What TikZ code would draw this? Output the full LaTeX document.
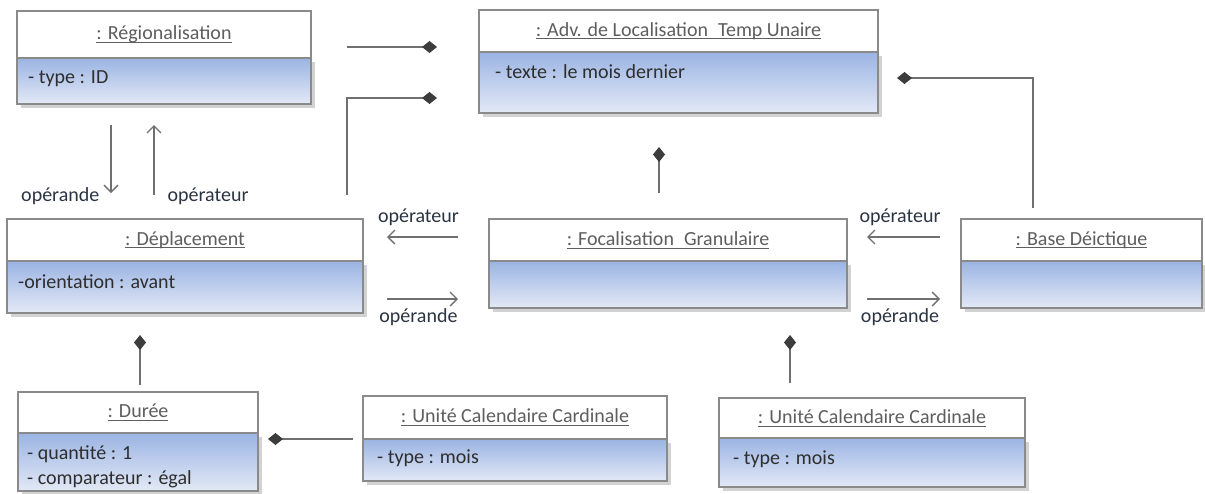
\documentclass[tikz,border=0pt]{standalone}
\usepackage{fontspec}
\setmainfont{Carlito}
\usepackage{tikz}
\usetikzlibrary{arrows.meta, positioning, shadows}
\definecolor{umlborder}{HTML}{8A8A8A}
\definecolor{umltop}{HTML}{9BB4E3}
\definecolor{umlbot}{HTML}{E3E9F6}
\definecolor{umltitle}{HTML}{5E5E5E}
\definecolor{umltext}{HTML}{2E2E2E}
\definecolor{umlline}{HTML}{707070}
\definecolor{umldiam}{HTML}{3C3C3C}
\definecolor{umllabel}{HTML}{2A3442}
\newcommand{\objname}[1]{\setbox0\hbox{#1}\rlap{\rule[-3pt]{\wd0}{0.9pt}}\box0}

\begin{document}
\begin{tikzpicture}[x=1pt, y=-1pt,
   font=\fontsize{20}{25}\selectfont,
   head/.style={draw=umlborder, line width=1.2pt, fill=white, outer sep=0pt, inner sep=0pt,
                anchor=north west, text=umltitle},
   body/.style={draw=umlborder, line width=1.2pt, top color=umltop, bottom color=umlbot,
                outer sep=0pt, inner sep=0pt,
                drop shadow={shadow xshift=4pt, shadow yshift=-4pt, fill=black!35, opacity=.5}},
   attr/.style={anchor=north west, align=left, inner sep=0pt, text=umltext},
   lbl/.style={text=umllabel, inner sep=1pt},
   comp/.style={draw=umlline, line width=1.3pt, -{Diamond[length=15pt, width=12pt, color=umldiam]}},
   assoc/.style={draw=umlline, line width=1.3pt, -{Straight Barb[length=7pt, width=14pt]}}]
  \useasboundingbox (0,0) rectangle (1205,493);

  \node[head, minimum width=294pt, minimum height=47pt] (regh) at (17,11) {\objname{: Régionalisation}};
  \node[body, minimum width=294pt, minimum height=46pt, below=0pt of regh] (regb) {};
  \node[attr] (rega) at ([xshift=11pt, yshift=-12pt]regb.north west) {- type : ID};

  \node[head, minimum width=399pt, minimum height=42pt] (advh) at (479,10)
     {\objname{: Adv. de Localisation\enspace Temp Unaire}};
  \node[body, minimum width=399pt, minimum height=61pt, below=0pt of advh] (advb) {};
  \node[attr] (adva) at ([xshift=16pt, yshift=-12pt]advb.north west) {- texte : le mois dernier};

  \node[head, minimum width=356pt, minimum height=42pt] (deph) at (7,219) {\objname{: Déplacement}};
  \node[body, minimum width=356pt, minimum height=52pt, below=0pt of deph] (depb) {};
  \node[attr] (depa) at ([xshift=11pt, yshift=-13pt]depb.north west) {-orientation : avant};

  \node[head, minimum width=358pt, minimum height=42pt] (foch) at (489,219)
     {\objname{: Focalisation\enspace Granulaire}};
  \node[body, minimum width=358pt, minimum height=47pt, below=0pt of foch] (focb) {};

  \node[head, minimum width=241pt, minimum height=42pt] (baseh) at (961,219) {\objname{: Base Déictique}};
  \node[body, minimum width=241pt, minimum height=47pt, below=0pt of baseh] (baseb) {};

  \node[head, minimum width=240pt, minimum height=41pt] (durh) at (18,392) {\objname{: Durée}};
  \node[body, minimum width=240pt, minimum height=58pt, below=0pt of durh] (durb) {};
  \node[attr] (dura) at ([xshift=9pt, yshift=-12pt]durb.north west) {- quantité : 1\\- comparateur : égal};

  \node[head, minimum width=304pt, minimum height=43pt] (uc1h) at (363,396)
     {\objname{: Unité Calendaire Cardinale}};
  \node[body, minimum width=304pt, minimum height=42pt, below=0pt of uc1h] (uc1b) {};
  \node[attr] (uc1a) at ([xshift=14pt, yshift=-11pt]uc1b.north west) {- type : mois};

  \node[head, minimum width=306pt, minimum height=40pt] (uc2h) at (719,398)
     {\objname{: Unité Calendaire Cardinale}};
  \node[body, minimum width=306pt, minimum height=49pt, below=0pt of uc2h] (uc2b) {};
  \node[attr] (uc2a) at ([xshift=14pt, yshift=-13pt]uc2b.north west) {- type : mois};

  \draw[comp, shorten <=36pt, shorten >=42pt] ([yshift=-12.5pt]regh.east) -- ([yshift=-16pt]advh.west);
  \draw[comp, shorten >=42pt] ([xshift=-16pt, yshift=24pt]deph.north east) |- ([yshift=-15.5pt]advb.west);
  \draw[comp, shorten <=26pt, shorten >=34pt] ([xshift=-9pt]foch.north) -- ([xshift=-9pt]foch.north |- advb.south);
  \draw[comp, shorten >=19pt] ([xshift=-48.5pt, yshift=11pt]baseh.north) |- ([yshift=4.5pt]advb.east);
  \draw[comp, shorten <=7pt, shorten >=22pt] ([xshift=2pt]durh.north) -- ([xshift=2pt]durh.north |- depb.south);
  \draw[comp, shorten <=10pt, shorten >=10pt] (uc1h.south west) -- (uc1h.south west -| durb.east);
  \draw[comp, shorten <=15pt, shorten >=27pt] ([xshift=-82pt]uc2h.north) -- ([xshift=-82pt]uc2h.north |- focb.south);

  \draw[assoc, shorten <=21pt, shorten >=26pt] ([xshift=-53pt]regb.south) -- ([xshift=-53pt]regb.south |- deph.north)
     node[lbl, pos=.8, left=10pt] {opérande};
  \draw[assoc, shorten <=24pt, shorten >=21pt] ([xshift=-31pt]deph.north) -- ([xshift=-31pt]deph.north |- regb.south)
     node[lbl, pos=.2, right=12pt] {opérateur};
  \draw[assoc, shorten <=31pt, shorten >=24pt] ([yshift=3pt]foch.west) -- ([yshift=3pt]deph.east)
     node[lbl, pos=.56, yshift=20pt] {opérateur};
  \draw[assoc, shorten <=24pt, shorten >=31pt] ([yshift=-12pt]depb.east) -- ([yshift=-12pt]depb.east -| focb.west)
     node[lbl, pos=.44, yshift=-18pt] {opérande};
  \draw[assoc, shorten <=21pt, shorten >=20pt] ([yshift=3pt]baseh.west) -- ([yshift=3pt]baseh.west -| foch.east)
     node[lbl, pos=.535, yshift=20pt] {opérateur};
  \draw[assoc, shorten <=20pt, shorten >=21pt] ([yshift=-14.5pt]focb.east) -- ([yshift=-14.5pt]focb.east -| baseb.west)
     node[lbl, pos=.465, yshift=-18pt] {opérande};
\end{tikzpicture}
\end{document}
